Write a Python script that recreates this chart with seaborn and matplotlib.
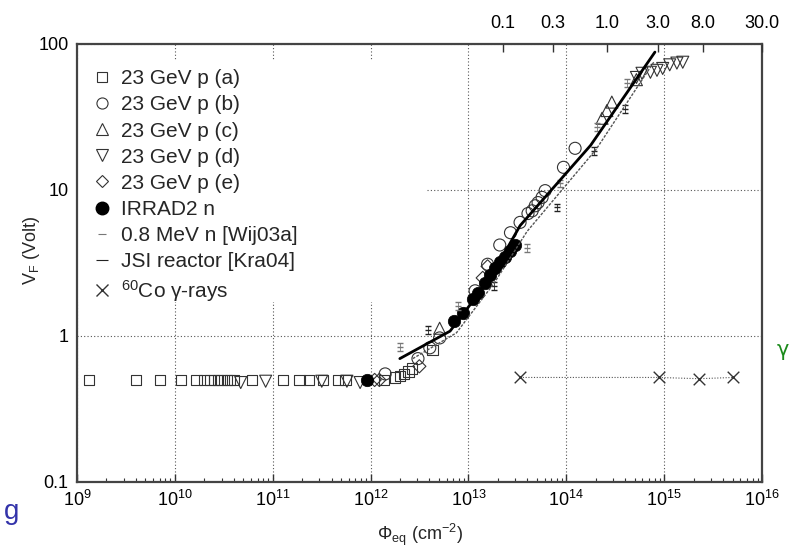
import numpy as np
import pandas as pd
import matplotlib
matplotlib.use("Agg")
import matplotlib.pyplot as plt
from matplotlib.lines import Line2D
from matplotlib.patches import Rectangle
import seaborn as sns

# ---------------- data ----------------
a_x = [1.32e9, 4.0e9, 7.05e9, 1.15e10, 1.66e10, 2.0e10, 2.29e10, 2.53e10, 2.77e10, 3.0e10,
       3.39e10, 3.67e10, 4.05e10, 6.1e10, 1.28e11, 1.88e11, 2.35e11, 3.27e11, 4.64e11, 5.55e11,
       1.37e12, 1.77e12, 1.99e12, 2.21e12, 2.44e12, 2.66e12, 4.3e12]
a_y = [0.5, 0.5, 0.5, 0.5, 0.5, 0.5, 0.5, 0.5, 0.5, 0.5,
       0.5, 0.5, 0.5, 0.5, 0.5, 0.5, 0.5, 0.5, 0.5, 0.5,
       0.5, 0.52, 0.53, 0.55, 0.57, 0.6, 0.8]

b_x = [1.41e12, 3.05e12, 4.03e12, 5.08e12, 1.17e13, 1.57e13, 2.09e13, 2.69e13, 3.37e13, 4.06e13,
       4.48e13, 4.82e13, 5.15e13, 5.66e13, 6.08e13, 9.36e13, 1.23e14]
b_y = [0.55, 0.70, 0.83, 0.97, 2.04, 3.1, 4.2, 5.1, 6.0, 6.9,
       7.2, 7.8, 8.2, 8.9, 9.9, 14.3, 19.3]

c_x = [5.08e12, 2.32e14, 2.6e14, 2.92e14, 5.21e14]
c_y = [1.13, 31, 35, 40, 57]

d_x = [4.71e10, 8.47e10, 3.17e11, 5.73e11, 7.82e11,
       5.21e14, 5.94e14, 7.24e14, 8.45e14, 9.66e14, 1.14e15, 1.35e15, 1.55e15]
d_y = [0.48, 0.49, 0.49, 0.49, 0.48,
       59, 63, 64, 66, 68, 72, 74, 75]

e_x = [1.1e12, 1.23e12, 3.15e12, 1.4e13, 1.57e13]
e_y = [0.5, 0.5, 0.62, 2.5, 3.0]

irrad_x = [9.1e11, 7.18e12, 8.83e12, 1.12e13, 1.26e13, 1.48e13, 1.66e13, 1.88e13, 2.09e13,
           2.35e13, 2.69e13, 2.99e13]
irrad_y = [0.5, 1.27, 1.44, 1.8, 1.98, 2.3, 2.6, 2.9, 3.2, 3.5, 3.8, 4.2]

wij_x = [1.99e12, 7.87e12, 3.97e13, 8.53e13, 2.07e14, 4.15e14]
wij_y = [0.84, 1.61, 4.0, 11.1, 27, 54]

kra_x = [3.85e12, 1.83e13, 8.02e13, 1.94e14, 3.99e14]
kra_y = [1.10, 2.2, 7.6, 18.6, 36]

co_x = [3.37e13, 8.77e14, 2.26e15, 5.1e15]
co_y = [0.52, 0.52, 0.51, 0.52]

fit1_x = [1.99e12, 6.49e12, 1.66e13, 3.37e13, 1.77e14, 8.05e14]
fit1_y = [0.70, 1.08, 2.47, 5.7, 20.2, 88]
fit2_x = [2.7e12, 7.53e12, 1.83e13, 3.97e13, 2.02e14, 7.82e14]
fit2_y = [0.70, 1.05, 2.3, 5.2, 19.0, 75]

top_pos = [2.25e13, 7.3e13, 2.6e14, 8.65e14, 2.5e15, 1.0e16]
top_lab = ["0.1", "0.3", "1.0", "3.0", "8.0", "30.0"]

labels = ["23 GeV p (a)", "23 GeV p (b)", "23 GeV p (c)", "23 GeV p (d)", "23 GeV p (e)",
          "IRRAD2 n", "0.8 MeV n [Wij03a]", "JSI reactor [Kra04]", "$^{60}$Co γ-rays"]

# ---------------- style ----------------
sns.set_theme(style="white")
plt.rcParams["font.family"] = ["Liberation Sans", "DejaVu Sans"]
plt.rcParams["mathtext.fontset"] = "custom"
plt.rcParams["mathtext.rm"] = "Liberation Sans"
plt.rcParams["mathtext.it"] = "Liberation Sans:italic"
plt.rcParams["mathtext.bf"] = "Liberation Sans:bold"

fig = plt.figure(figsize=(7.94, 5.47), dpi=100)
ax = fig.add_axes([77 / 794, 1 - 482 / 547, 685 / 794, 438 / 547])
ax.set_xscale("log")
ax.set_yscale("log")
ax.set_xlim(1e9, 1e16)
ax.set_ylim(0.1, 100)

MC = "#333333"


def hollow(x, y, m, s):
    df = pd.DataFrame({"x": x, "y": y})
    sns.scatterplot(data=df, x="x", y="y", marker=m, s=s, facecolors="none",
                    edgecolor=MC, linewidth=0.8, ax=ax, zorder=3)


hollow(a_x, a_y, "s", 55)
hollow(b_x, b_y, "o", 75)
hollow(c_x, c_y, "^", 75)
hollow(d_x, d_y, "v", 75)
hollow(e_x, e_y, "D", 45)

sns.scatterplot(data=pd.DataFrame({"x": irrad_x, "y": irrad_y}), x="x", y="y",
                marker="o", s=80, color="black", edgecolor="black", linewidth=0.5,
                ax=ax, zorder=4)

# fit curves
sns.lineplot(data=pd.DataFrame({"x": fit1_x, "y": fit1_y}), x="x", y="y", sort=False,
             estimator=None, color="black", linewidth=2.0, ax=ax, zorder=5)
sns.lineplot(data=pd.DataFrame({"x": fit2_x, "y": fit2_y}), x="x", y="y", sort=False,
             estimator=None, color="#555555", linewidth=1.0, linestyle=(0, (2, 1)),
             ax=ax, zorder=5)

# neutron reference points with error bars
ax.errorbar(wij_x, wij_y, yerr=[[v * 0.06 for v in wij_y], [v * 0.06 for v in wij_y]],
            fmt="_", color="#777777", ms=5, elinewidth=0.6, capsize=2, zorder=4)
ax.errorbar(kra_x, kra_y, yerr=[[v * 0.06 for v in kra_y], [v * 0.06 for v in kra_y]],
            fmt="_", color="#222222", ms=5, elinewidth=0.6, capsize=2, zorder=4)

# Co-60
sns.lineplot(data=pd.DataFrame({"x": co_x, "y": co_y}), x="x", y="y", sort=False,
             estimator=None, color="#555555", linewidth=0.8, linestyle=(0, (1, 1.5)),
             ax=ax, zorder=3)
sns.scatterplot(data=pd.DataFrame({"x": co_x, "y": co_y}), x="x", y="y", marker="x",
                s=70, color="#333333", linewidth=1.0, ax=ax, zorder=4)

# grid
ax.set_xticks([1e9, 1e10, 1e11, 1e12, 1e13, 1e14, 1e15, 1e16])
ax.set_yticks([0.1, 1, 10, 100])
ax.set_yticklabels(["0.1", "1", "10", "100"])
ax.grid(True, which="major", color="#555555", linestyle=(0, (1, 2)), linewidth=0.8)
ax.set_axisbelow(True)
# legend background (white box covering grid)
ax.add_patch(Rectangle((0.002, 0.411), 0.509, 0.552, transform=ax.transAxes,
                       facecolor="white", edgecolor="none", zorder=1))

for sp in ax.spines.values():
    sp.set_color("#444444")
    sp.set_linewidth(1.6)

ax.tick_params(axis="both", which="both", direction="in", colors="#333333",
               labelcolor="black", labelsize=13, top=False, right=False)
ax.tick_params(axis="both", which="major", length=6, width=1.0, pad=6)
ax.tick_params(axis="both", which="minor", length=3, width=0.8)
ax.xaxis.set_minor_locator(matplotlib.ticker.LogLocator(base=10, subs=np.arange(2, 10), numticks=20))
ax.yaxis.set_minor_locator(matplotlib.ticker.LogLocator(base=10, subs=np.arange(2, 10), numticks=20))
ax.xaxis.set_minor_formatter(matplotlib.ticker.NullFormatter())
ax.yaxis.set_minor_formatter(matplotlib.ticker.NullFormatter())

ax.set_xlabel("Φ$_\\mathrm{eq}$ (cm$^{-2}$)", fontsize=13, labelpad=8)
ax.set_ylabel("V$_\\mathrm{F}$ (Volt)", fontsize=13)
ax.yaxis.set_label_coords(-0.051, 0.53)

# top axis
ax2 = ax.twiny()
ax2.set_xscale("log")
ax2.set_xlim(1e9, 1e16)
ax2.set_xticks(top_pos)
ax2.set_xticklabels(top_lab)
ax2.xaxis.set_minor_locator(matplotlib.ticker.NullLocator())
ax2.tick_params(axis="x", direction="in", length=6, width=1.0, labelsize=13, pad=9,
                colors="#333333", labelcolor="black")
for sp in ax2.spines.values():
    sp.set_visible(False)

# legend
handles = [
    Line2D([], [], marker="s", ls="none", mfc="none", mec=MC, ms=7, mew=0.8),
    Line2D([], [], marker="o", ls="none", mfc="none", mec=MC, ms=8, mew=0.8),
    Line2D([], [], marker="^", ls="none", mfc="none", mec=MC, ms=8, mew=0.8),
    Line2D([], [], marker="v", ls="none", mfc="none", mec=MC, ms=8, mew=0.8),
    Line2D([], [], marker="D", ls="none", mfc="none", mec=MC, ms=6, mew=0.8),
    Line2D([], [], marker="o", ls="none", mfc="black", mec="black", ms=9),
    Line2D([], [], marker="_", ls="none", color="#777777", ms=6, mew=0.8),
    Line2D([], [], marker="_", ls="none", color="#222222", ms=8, mew=0.8),
    Line2D([], [], marker="x", ls="none", color="#333333", ms=8, mew=1.0),
]
leg = ax.legend(handles, labels, loc="upper left", bbox_to_anchor=(0.0127, 0.961),
                frameon=False, fontsize=15, handlelength=0.8, handletextpad=0.5,
                labelspacing=0.34, borderaxespad=0.0)
leg.set_zorder(6)

# slide artefacts
fig.text(12 / 794, 1 - 512 / 547, "g", color="#3333aa", fontsize=20, ha="center",
         va="center", family=["Liberation Sans", "DejaVu Sans"])
fig.text(783 / 794, 1 - 350 / 547, "γ", color="#1a8a1a", fontsize=15, ha="center",
         va="center", family=["DejaVu Sans"])

fig.savefig("out.png", dpi=100)
